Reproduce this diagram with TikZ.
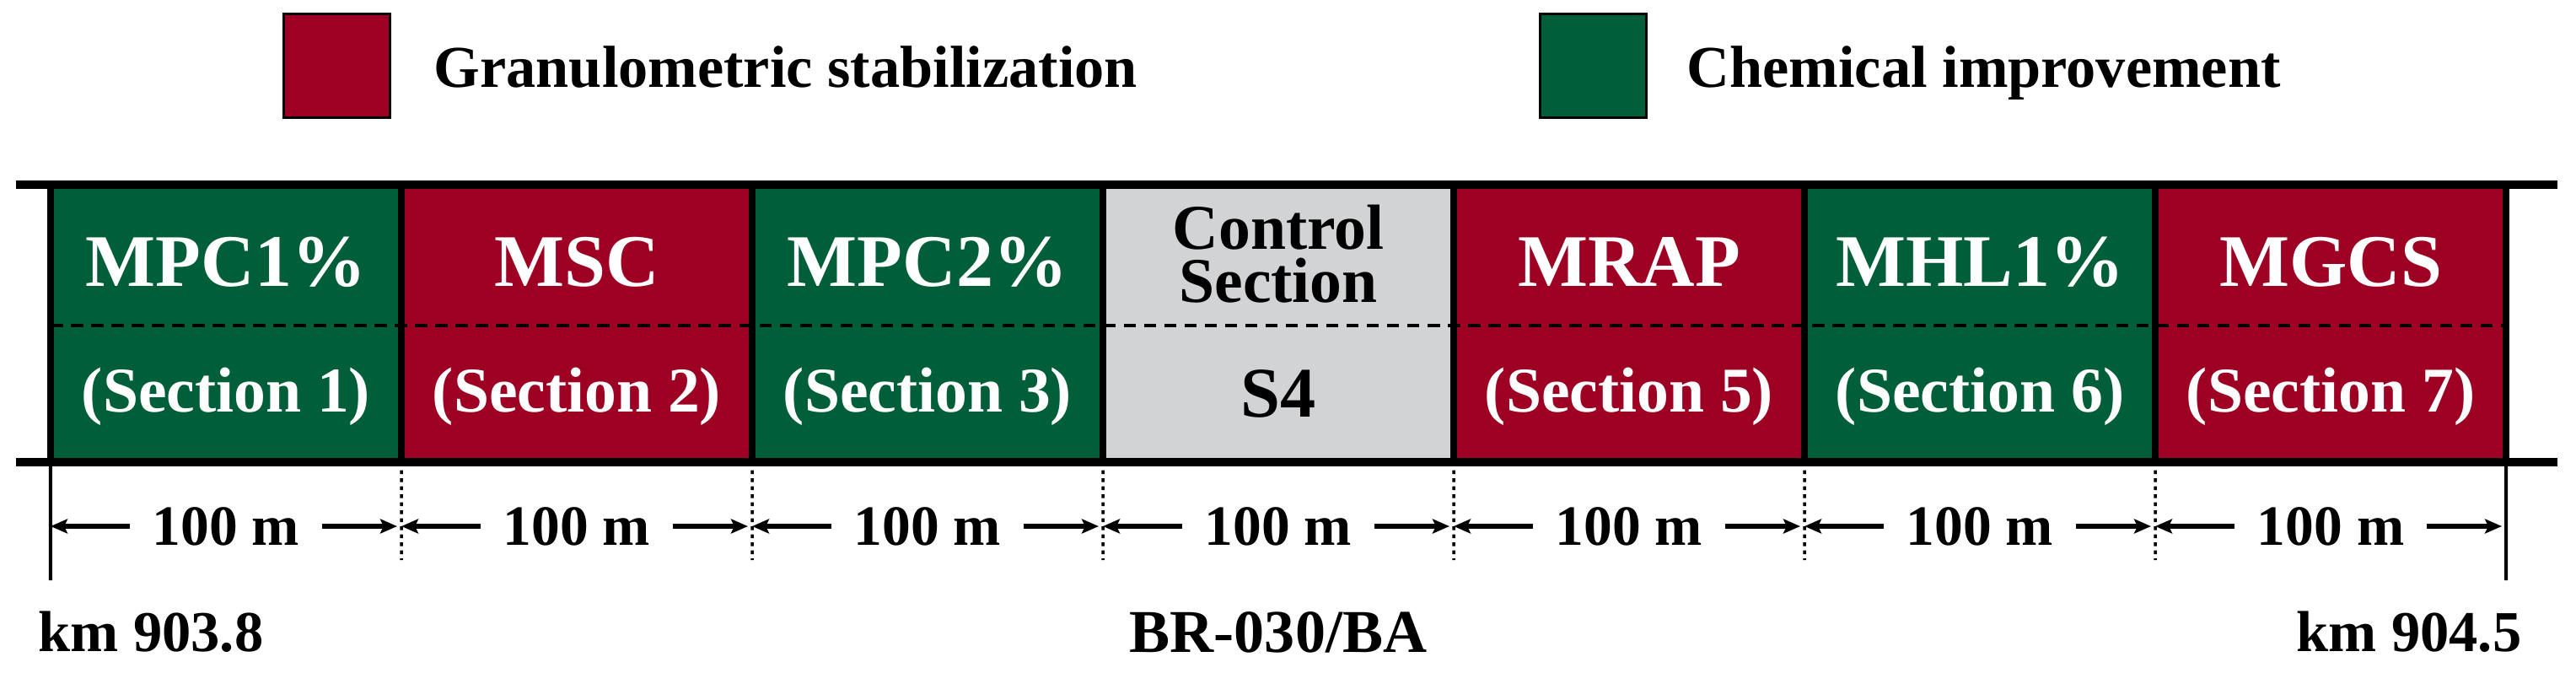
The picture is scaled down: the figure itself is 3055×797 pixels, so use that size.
\documentclass[tikz,border=0pt]{standalone}
\usepackage{fontspec}
\setmainfont{Liberation Serif}
\usetikzlibrary{arrows.meta}
\definecolor{granred}{RGB}{157,0,35}
\definecolor{chemgreen}{RGB}{0,95,57}
\definecolor{ctrlgray}{RGB}{209,211,212}
\begin{document}
\begin{tikzpicture}[x=0.01cm,y=-0.01cm,
  secbox/.style={draw=black, line width=0.08cm, minimum width=4.16cm, minimum height=3.29cm, inner sep=0, outer sep=0},
  legbox/.style={draw=black, line width=0.03cm, minimum width=1.25cm, minimum height=1.22cm, inner sep=0},
  legtext/.style={font=\fontsize{20}{24}\selectfont\bfseries, inner sep=0, anchor=base west},
  toplab/.style={font=\fontsize{25}{30}\selectfont\bfseries, text=white, inner sep=0, anchor=base},
  botlab/.style={font=\fontsize{21.5}{26}\selectfont\bfseries, text=white, inner sep=0, anchor=base},
  ctrllab/.style={font=\fontsize{21.5}{26}\selectfont\bfseries, text=black, inner sep=0, anchor=base},
  road/.style={line width=0.1cm},
  dashline/.style={line width=0.045cm, dash pattern=on 0.145cm off 0.095cm},
  dotline/.style={line width=0.035cm, dash pattern=on 0.045cm off 0.05cm},
  endline/.style={line width=0.04cm},
  dimtext/.style={font=\fontsize{19.2}{23}\selectfont\bfseries, inner sep=0, outer xsep=0.27cm},
  dimarrow/.style={line width=0.06cm, -{Stealth[length=0.2cm,width=0.17cm,inset=0.04cm]}},
  kmlab/.style={font=\fontsize{19.5}{23}\selectfont\bfseries, inner sep=0},
]
\useasboundingbox (0,0) rectangle (3055,797);

% legend
\node[legbox, fill=granred] (lg1) at (399.5,78) {};
\node[legtext] (lt1) at (514,103) {Granulometric stabilization};
\node[legbox, fill=chemgreen] (lg2) at (1889.5,78) {};
\node[legtext] (lt2) at (2000,103) {Chemical improvement};

% section boxes
\node[secbox, fill=chemgreen] (s1) at (268,383.5) {};
\node[secbox, fill=granred]   (s2) at (684,383.5) {};
\node[secbox, fill=chemgreen] (s3) at (1100,383.5) {};
\node[secbox, fill=ctrlgray]  (s4) at (1516,383.5) {};
\node[secbox, fill=granred]   (s5) at (1932,383.5) {};
\node[secbox, fill=chemgreen] (s6) at (2348,383.5) {};
\node[secbox, fill=granred]   (s7) at (2764,383.5) {};

% dotted dividers below road
\foreach \i in {1,...,6} {
  \coordinate (v\i) at (60+416*\i,664);
  \draw[dotline] (s\i.south east) -- (v\i);
}
% end lines
\coordinate (k0) at (60,688);
\coordinate (k7) at (2972,688);
\draw[endline] (s1.south west) -- (k0);
\draw[endline] (s7.south east) -- (k7);

% road edges
\coordinate (rtl) at (19,219);
\coordinate (rtr) at (3033,219);
\coordinate (rbl) at (19,548);
\coordinate (rbr) at (3033,548);
\draw[road] (rtl) -- (rtr);
\draw[road] (rbl) -- (rbr);

% dashed middle line
\coordinate (dl) at (60,386);
\coordinate (dr) at (2972,386);
\draw[dashline] (dl) -- (dr);

% labels
\node[toplab] (t1) at (268,339) {MPC1\%};
\node[toplab] (t2) at (684,339) {MSC};
\node[toplab] (t3) at (1100,339) {MPC2\%};
\node[ctrllab] (t4a) at (1516,295) {Control};
\node[ctrllab] (t4b) at (1516,358) {Section};
\node[toplab] (t5) at (1932,339) {MRAP};
\node[toplab] (t6) at (2348,339) {MHL1\%};
\node[toplab] (t7) at (2764,339) {MGCS};

\node[botlab] (b1) at (268,488) {(Section 1)};
\node[botlab] (b2) at (684,488) {(Section 2)};
\node[botlab] (b3) at (1100,488) {(Section 3)};
\node[font=\fontsize{24}{28}\selectfont\bfseries, inner sep=0, anchor=base] (b4) at (1516,494) {S4};
\node[botlab] (b5) at (1932,488) {(Section 5)};
\node[botlab] (b6) at (2348,488) {(Section 6)};
\node[botlab] (b7) at (2764,488) {(Section 7)};

% dimensions
\foreach \i in {0,...,7} \coordinate (p\i) at (60+416*\i,624);
\foreach \i in {1,...,7} \node[dimtext] (d\i) at (60+416*\i-208,624) {100 m};
\foreach \i [evaluate=\i as \j using int(\i-1)] in {1,...,7} {
  \draw[dimarrow] (d\i.west) -- (p\j);
  \draw[dimarrow, shorten >=0.05cm] (d\i.east) -- (p\i);
}

% bottom labels
\node[kmlab, anchor=base west] (km1) at (45,772) {km 903.8};
\node[kmlab, anchor=base east] (km2) at (2991,772) {km 904.5};
\node[kmlab, font=\fontsize{20.5}{24}\selectfont\bfseries, anchor=base] (br) at (1516,773) {BR-030/BA};
\end{tikzpicture}
\end{document}
